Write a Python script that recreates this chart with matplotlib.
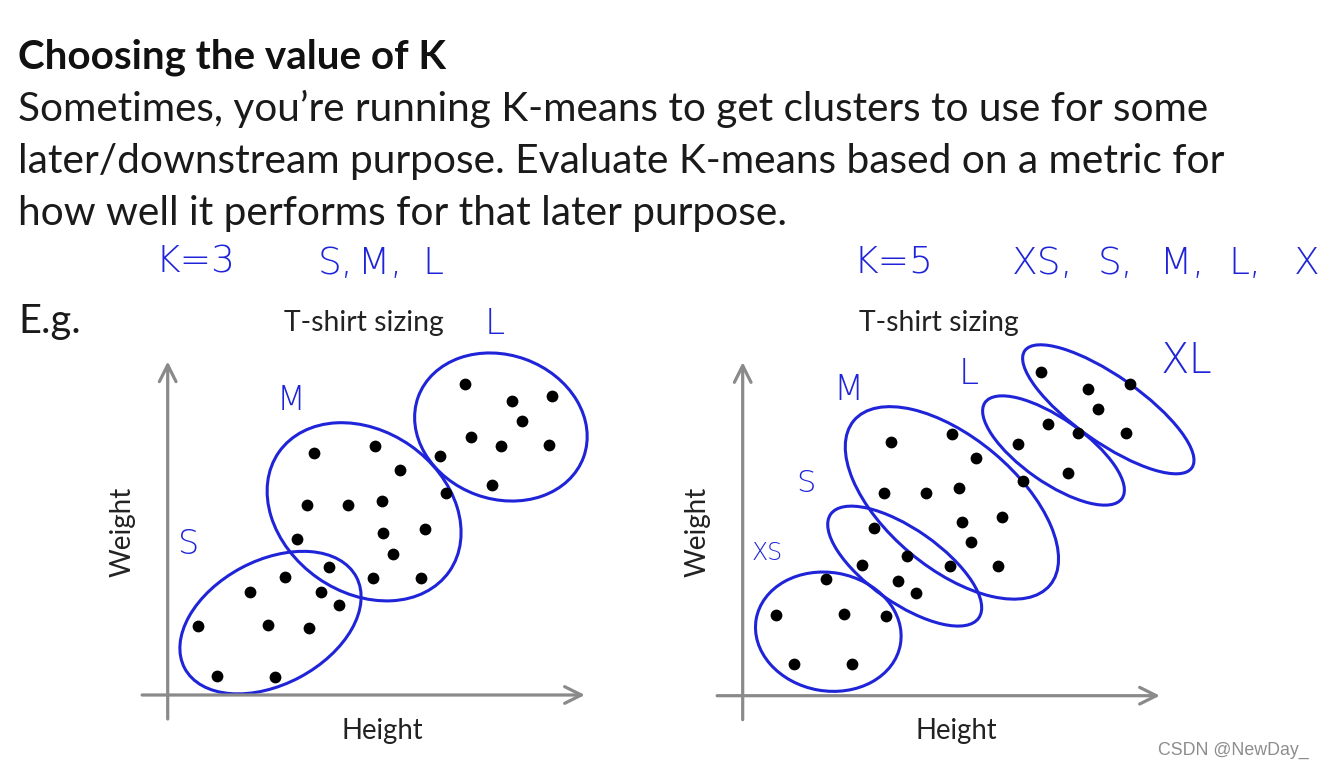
import numpy as np
import matplotlib
matplotlib.use("Agg")
import matplotlib.pyplot as plt
from matplotlib.patches import Ellipse

# ---------------- data (Height, Weight in arbitrary units) ----------------
# K = 3 (left chart)
k3_s_height = [7.6, 12.3, 20.6, 25.1, 26.8, 29.3, 35.3, 38.3, 42.8]
k3_s_weight = [17.3, 4.8, 25.8, 17.5, 4.5, 29.5, 16.8, 25.8, 22.5]
k3_m_height = [36.6, 51.8, 58.1, 34.8, 45.1, 53.6, 69.6, 68.1, 53.8, 64.3, 56.3, 32.3, 40.3, 51.3, 63.3]
k3_m_weight = [60.5, 62.3, 56.3, 47.5, 47.5, 48.5, 50.5, 59.8, 40.5, 41.5, 35.3, 39.0, 32.0, 29.3, 29.3]
k3_l_height = [74.3, 86.1, 96.1, 88.6, 75.8, 83.3, 95.3, 81.1]
k3_l_weight = [77.8, 73.5, 74.8, 68.5, 64.5, 62.3, 62.5, 52.5]

# K = 5 (right chart)
k5_xs_height = [8.3, 12.9, 20.8, 25.4, 27.3, 35.8]
k5_xs_weight = [20.2, 7.9, 29.1, 20.4, 7.9, 20.0]
k5_s_height = [32.7, 29.8, 41.0, 38.8, 43.3, 51.8]
k5_s_weight = [42.0, 32.7, 35.0, 28.8, 25.8, 32.4]
k5_m_height = [37.0, 52.4, 58.3, 35.4, 45.8, 54.1, 70.0, 54.8, 64.8, 57.0, 63.9]
k5_m_weight = [63.4, 65.4, 59.4, 50.6, 50.6, 51.9, 53.8, 43.5, 44.6, 38.4, 32.4]
k5_l_height = [68.8, 76.2, 83.8, 81.3]
k5_l_weight = [62.9, 67.9, 65.8, 55.8]
k5_xl_height = [74.6, 86.3, 96.7, 88.8, 95.8]
k5_xl_weight = [80.9, 76.7, 77.9, 71.6, 65.6]

k3_labels = ["S", "M", "L"]
k5_labels = ["XS", "S", "M", "L", "XL"]

title = "Choosing the value of K"
body_lines = [
    "Sometimes, you\u2019re running K-means to get clusters to use for some",
    "later/downstream purpose. Evaluate K-means based on a metric for",
    "how well it performs for that later purpose.",
]

# ---------------- styling ----------------
W, H = 1324, 768
INK = "#1f24d8"
AXIS_GRAY = "#8a8a8a"
SLIDE_FONT = ["Lato", "DejaVu Sans"]
HAND_FONT = ["DejaVu Sans"]
HAND_SIZE = 27

fig = plt.figure(figsize=(W / 100, H / 100), dpi=100)
fig.patch.set_facecolor("white")
renderer = fig.canvas.get_renderer()


def fx(px):
    return px / W


def fy(py):
    return 1 - py / H


def fit_text(s, x0, x1, y_base, size0=20, **kw):
    t = fig.text(fx(x0), fy(y_base), s, ha="left", va="baseline", fontsize=size0, **kw)
    w = t.get_window_extent(renderer).width
    t.set_fontsize(size0 * (x1 - x0) / w)
    return t


def hand(s, x, y, size=HAND_SIZE, ha="left", va="baseline"):
    return fig.text(fx(x), fy(y), s, ha=ha, va=va, fontsize=size, family=HAND_FONT,
                    color=INK, fontweight="light")


# slide text
fit_text(title, 18, 446, 68, family=SLIDE_FONT, fontweight="bold", color="#111111")
for i, (line, x1) in enumerate(zip(body_lines, [1212, 1225, 789])):
    fit_text(line, 18, x1, 121 + 52 * i, family=SLIDE_FONT, color="#1a1a1a")
fit_text("E.g.", 18, 80, 333, family=SLIDE_FONT, color="#1a1a1a")

# handwritten annotations at the top
hand("K=3", 155, 272)
for tok, x in zip(["S,", "M,", "L"], [318, 358, 422]):
    hand(tok, x, 274)
hand("K=5", 853, 272)
for tok, x in zip(["XS,", "S,", "M,", "L,", "X"], [1012, 1098, 1160, 1228, 1294]):
    hand(tok, x, 274)

# watermark
fit_text("CSDN @NewDay_", 1158, 1308, 755, family=["Liberation Sans", "DejaVu Sans"], color="#8d8d8d")

# ---------------- plots ----------------
SCALE = 4.0  # pixels per data unit
XLIM = (-10, 122)
YLIM = (-10, 90)


def make_axes(ox, oy):
    left = ox + XLIM[0] * SCALE
    right = ox + XLIM[1] * SCALE
    top = oy - YLIM[1] * SCALE
    bottom = oy - YLIM[0] * SCALE
    ax = fig.add_axes([fx(left), fy(bottom), (right - left) / W, (bottom - top) / H])
    ax.set_xlim(*XLIM)
    ax.set_ylim(*YLIM)
    ax.axis("off")
    arrow = dict(arrowstyle="->,head_length=0.6,head_width=0.3", lw=2.3, color=AXIS_GRAY,
                 mutation_scale=20, shrinkA=0, shrinkB=0)
    ax.annotate("", xy=(104.3, 0), xytext=(-6.4, 0), arrowprops=arrow)
    ax.annotate("", xy=(0, 83.4), xytext=(0, -6.0), arrowprops=arrow)
    return ax


def draw_clusters(ax, clusters, outlines):
    for (hx, wy), (cx, cy, a, b, ang) in zip(clusters, outlines):
        ax.add_patch(Ellipse((cx, cy), 2 * a, 2 * b, angle=ang, fill=False,
                             edgecolor=INK, lw=2.2, zorder=2))
        ax.scatter(hx, wy, s=72, color="black", zorder=3, linewidths=0)


# left chart (K=3)
ax1 = make_axes(167.7, 695.0)
k3_outlines = [(25.7, 18.1, 24.3, 15.5, 28), (49.1, 45.8, 26.0, 20.2, -35), (83.3, 67.0, 22.0, 18.0, -20)]
draw_clusters(ax1, [(k3_s_height, k3_s_weight), (k3_m_height, k3_m_weight), (k3_l_height, k3_l_weight)],
              k3_outlines)

# right chart (K=5)
ax2 = make_axes(742.7, 695.7)
k5_outlines = [(21.4, 16.0, 18.3, 14.8, -10), (40.5, 32.4, 22.6, 9.2, -35), (52.3, 48.2, 32.0, 16.3, -40),
               (77.7, 61.3, 20.9, 8.0, -35), (91.4, 71.6, 25.5, 8.3, -35)]
draw_clusters(ax2, [(k5_xs_height, k5_xs_weight), (k5_s_height, k5_s_weight), (k5_m_height, k5_m_weight),
                    (k5_l_height, k5_l_weight), (k5_xl_height, k5_xl_weight)], k5_outlines)

# axis titles
for ox in (0, 575):
    fit_text("T-shirt sizing", 284 + ox, 444 + ox, 331, family=SLIDE_FONT, color="#222222")
    fit_text("Height", 341 + ox, 423 + ox, 739, family=SLIDE_FONT, color="#222222")
    tw = fig.text(fx(123 + ox), fy(532), "Weight", rotation=90, ha="center", va="center",
                  fontsize=20, family=SLIDE_FONT, color="#222222")
    h = tw.get_window_extent(renderer).height
    tw.set_fontsize(20 * 90 / h)

# handwritten cluster labels
hand_labels = [
    ("S", 189, 545, 24), ("M", 291, 401, 24), ("L", 495, 324, 26),
    ("XS", 767, 553, 17), ("S", 806, 483, 22), ("M", 848, 390, 25), ("L", 969, 374, 26),
    ("XL", 1186, 361, 30),
]
for txt, x, y, size in hand_labels:
    hand(txt, x, y, size=size, ha="center", va="center")

fig.savefig("out.png", dpi=100, facecolor="white")
